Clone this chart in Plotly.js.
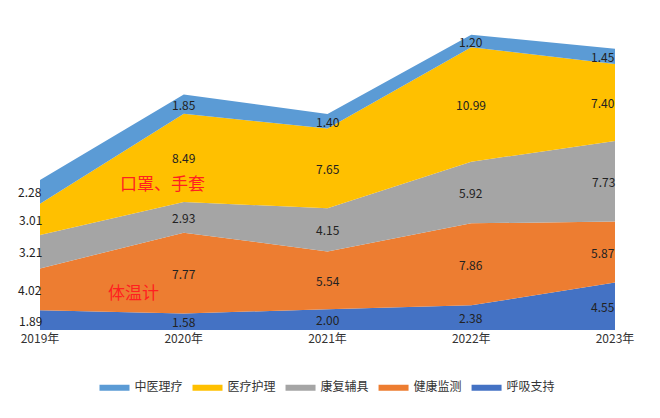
<!DOCTYPE html>
<html><head><meta charset="utf-8">
<script src="https://cdn.plot.ly/plotly-3.0.1.min.js"></script>
<style>body{margin:0}</style></head>
<body><div id="c" style="width:660px;height:418px"></div>
<script>
const years = ["2019年","2020年","2021年","2022年","2023年"];
const names = ["呼吸支持","健康监测","康复辅具","医疗护理","中医理疗"];
const colors = ["#4472C4","#ED7D31","#A5A5A5","#FFC000","#5B9BD5"];
const huxi = [1.89,1.58,2.00,2.38,4.55];
const jiankang = [4.02,7.77,5.54,7.86,5.87];
const kangfu = [3.21,2.93,4.15,5.92,7.73];
const huli = [3.01,8.49,7.65,10.99,7.40];
const zhongyi = [2.28,1.85,1.40,1.20,1.45];
const series = [huxi,jiankang,kangfu,huli,zhongyi];
const xs = [0,1,2,3,4];
const traces = series.map((s,i)=>({x:xs,y:s,name:names[i],type:'scatter',mode:'lines',
  stackgroup:'one',line:{width:0,color:colors[i]},fillcolor:colors[i]}));
const ann = [];
const cum = [0,0,0,0,0];
series.forEach(s=>{
  s.forEach((v,j)=>{
    ann.push({x:xs[j],y:cum[j]+v/2,text:v.toFixed(2),showarrow:false,
      xshift:j==0?-10:(j==4?-12:0),font:{size:12,color:'#222'}});
    cum[j]+=v;
  });
});
ann.push({x:0.85,y:14.2,text:'口罩、手套',showarrow:false,font:{size:17,color:'#FF2020'}});
ann.push({x:0.65,y:3.7,text:'体温计',showarrow:false,font:{size:17,color:'#FF2020'}});
ann.push({x:3.55,y:-0.4,text:'呼吸机、制氧<br>机',align:'left',xanchor:'left',showarrow:false,font:{size:17,color:'#FF2020'}});
Plotly.newPlot('c',traces,{
  width:660,height:418,margin:{l:40,r:45,t:28,b:88},
  paper_bgcolor:'#fff',plot_bgcolor:'#fff',
  font:{family:'"Noto Sans CJK SC", sans-serif',size:12,color:'#333'},
  xaxis:{range:[0,4],tickvals:xs,ticktext:years,showgrid:false,zeroline:false,showline:false,ticks:'',tickfont:{size:12}},
  yaxis:{range:[0,29],visible:false},
  showlegend:true,legend:{orientation:'h',x:0.5,xanchor:'center',y:-0.14,font:{size:12}},
  annotations:ann
},{displayModeBar:false});
</script></body></html>
